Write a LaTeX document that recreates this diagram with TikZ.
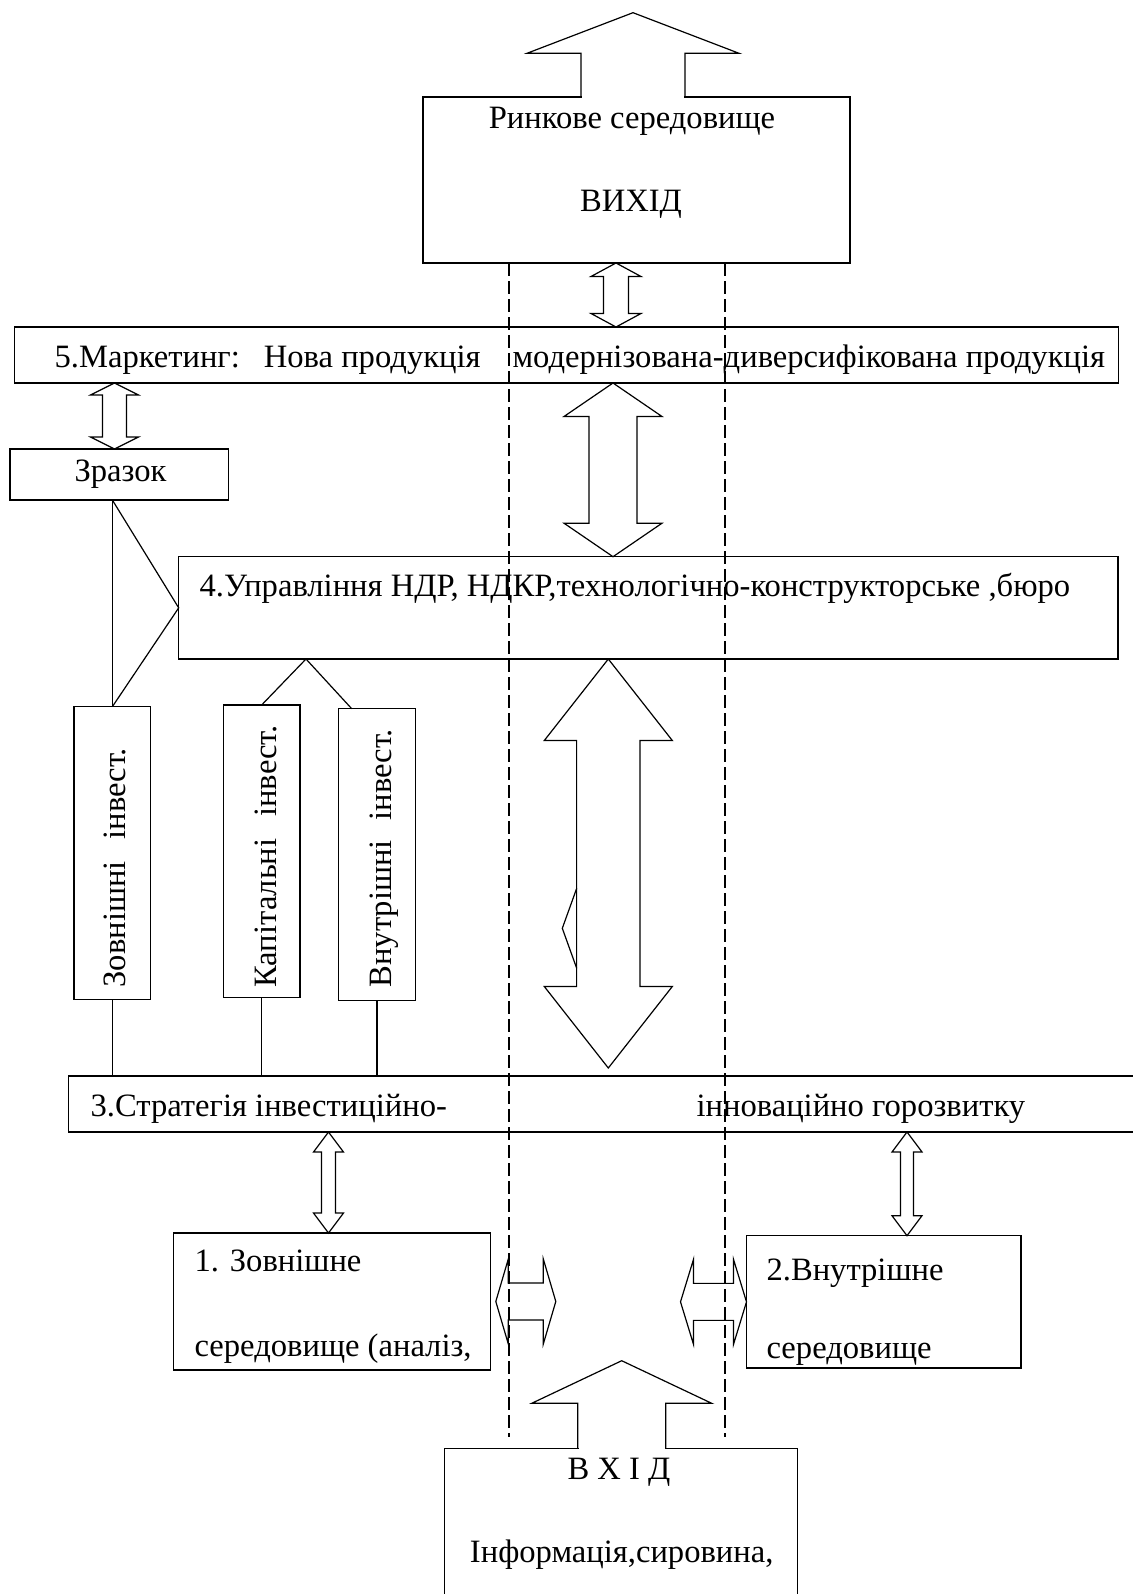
\documentclass[tikz,border=0pt]{standalone}
\usepackage{fontspec}
\setmainfont{Liberation Serif}
\usetikzlibrary{calc,fit}

% vertical double block arrow: top point, bottom point, shaft half, head half, head length
\newcommand{\vdbl}[5]{%
  \draw let \p1=#1, \p2=#2 in
    (\x1,\y1) -- (\x1+#4*0.5pt,\y1-#5*0.5pt) -- (\x1+#3*0.5pt,\y1-#5*0.5pt)
    -- (\x1+#3*0.5pt,\y2+#5*0.5pt) -- (\x1+#4*0.5pt,\y2+#5*0.5pt) -- (\x1,\y2)
    -- (\x1-#4*0.5pt,\y2+#5*0.5pt) -- (\x1-#3*0.5pt,\y2+#5*0.5pt)
    -- (\x1-#3*0.5pt,\y1-#5*0.5pt) -- (\x1-#4*0.5pt,\y1-#5*0.5pt) -- cycle;}
% horizontal double block arrow: left point, right point, shaft half, head half, head length
\newcommand{\hdbl}[5]{%
  \draw let \p1=#1, \p2=#2 in
    (\x1,\y1) -- (\x1+#5*0.5pt,\y1+#4*0.5pt) -- (\x1+#5*0.5pt,\y1+#3*0.5pt)
    -- (\x2-#5*0.5pt,\y1+#3*0.5pt) -- (\x2-#5*0.5pt,\y1+#4*0.5pt) -- (\x2,\y1)
    -- (\x2-#5*0.5pt,\y1-#4*0.5pt) -- (\x2-#5*0.5pt,\y1-#3*0.5pt)
    -- (\x1+#5*0.5pt,\y1-#3*0.5pt) -- (\x1+#5*0.5pt,\y1-#4*0.5pt) -- cycle;}
% arrow coming up out of a box: base point, shaft half, head half, shaft length, head length
\newcommand{\outarrow}[5]{%
  \fill[white] let \p1=#1 in
    (\x1-#2*0.5pt+0.4pt,\y1-0.6pt) rectangle (\x1+#2*0.5pt-0.4pt,\y1+0.6pt);
  \draw let \p1=#1 in
    (\x1-#2*0.5pt,\y1) -- (\x1-#2*0.5pt,\y1+#4*0.5pt) -- (\x1-#3*0.5pt,\y1+#4*0.5pt)
    -- (\x1,\y1+#4*0.5pt+#5*0.5pt) -- (\x1+#3*0.5pt,\y1+#4*0.5pt)
    -- (\x1+#2*0.5pt,\y1+#4*0.5pt) -- (\x1+#2*0.5pt,\y1);}

\begin{document}
\begin{tikzpicture}[x=0.5pt,y=-0.5pt,line width=0.6pt,
  box/.style={draw,inner sep=0pt,outer sep=0pt},
  txt/.style={inner sep=0pt,anchor=base west,font=\fontsize{16.3}{19}\selectfont},
  dashline/.style={dash pattern=on 6.5pt off 2.5pt}]
  \useasboundingbox (0,0) rectangle (1133,1594);

  % boxes
  \node[box,fit={(423,97) (850,263)}] (top) {};
  \node[box,fit={(14.5,327) (1118.5,383)}] (mkt) {};
  \node[box,fit={(10,449) (228.5,500)}] (zraz) {};
  \node[box,fit={(178.7,556.7) (1118,659)}] (upr) {};
  \node[box,fit={(74,706.7) (150.7,999.3)}] (zovn) {};
  \node[box,fit={(223.3,705) (300,997.3)}] (kap) {};
  \node[box,fit={(338.7,708.7) (415.3,1000.7)}] (vnut) {};
  \node[box,fit={(68.6,1076) (1140,1132)}] (strat) {};
  \node[box,fit={(173.6,1233) (490.8,1370)}] (env1) {};
  \node[box,fit={(746.5,1235.7) (1021,1368)}] (env2) {};
  \node[box,fit={(444.3,1448.3) (797.7,1610)}] (inp) {};

  % texts
  \node[txt,anchor=base] (rinok) at (632,129) {Ринкове середовище};
  \node[txt,anchor=base] (vyhid) at (631,211.7) {ВИХІД};
  \node[txt] (mkttxt) at (54,367)
    {5.Маркетинг:\hspace{12pt}Нова продукція\hspace{16pt}модернізована-диверсифікована продукція};
  \node[txt] (zraztxt) at (74,481) {Зразок};
  \node[txt] (uprtxt) at (199,596.7) {4.Управління НДР, НДКР,технологічно-конструкторське ,бюро};
  \node[txt,rotate=90] (zovntxt) at (125,988) {Зовнішні\hspace{11pt}інвест.};
  \node[txt,rotate=90] (kaptxt) at (276,988) {Капітальні\hspace{11pt}інвест.};
  \node[txt,rotate=90] (vnuttxt) at (391,988) {Внутрішні\hspace{10pt}інвест.};
  \node[txt] (strattxt) at (90,1116.7) {3.Стратегія інвестиційно-};
  \node[txt] (strattxtb) at (696,1116.7) {інноваційно горозвитку};
  \node[txt] (env1txt) at (194,1271.7) {1. Зовнішне};
  \node[txt] (env1txtb) at (194,1356.7) {середовище (аналіз,};
  \node[txt] (env2txt) at (766,1280) {2.Внутрішне};
  \node[txt] (env2txtb) at (766,1358) {середовище};
  \node[txt,anchor=base] (inptxt) at (619,1479.3) {В Х І Д};
  \node[txt,anchor=base] (inptxtb) at (621.7,1562.7) {Інформація,сировина,};

  % channel
  \foreach \x in {509,725} {
    \draw[dashline] (\x,263) -- (\x,1437);
  }

  % out / in arrows
  \outarrow{(top.north -| 633,0)}{52}{106}{43.7}{40.6}
  \outarrow{(inp.north -| 621.7,0)}{44}{90}{45}{42.6}

  % links
  \draw (zovn.north) -- (zovn.north |- zraz.south);
  \draw (zovn.north |- zraz.south) -- (upr.west) -- (zovn.north);
  \draw (kap.north) -- (upr.south -| 306,0) -- ($(vnut.north west)+(13,0)$);
  \foreach \n in {zovn,kap,vnut} {
    \draw (\n.south) -- (\n.south |- strat.north);
  }

  % double arrows
  \vdbl{(top.south -| 616,0)}{(mkt.north -| 616,0)}{12.5}{25}{13.5}
  \vdbl{(mkt.south -| 114.5,0)}{(zraz.north -| 114.5,0)}{12}{24}{12}
  \vdbl{(mkt.south -| 613,0)}{(upr.north -| 613,0)}{24}{49}{33.5}
  \vdbl{(upr.south -| 608.3,0)}{($(strat.north -| 608.3,0)+(0,-8)$)}{31.7}{64}{81.5}
  \draw (576.7,888.3) -- (562.3,928.3) -- (576.7,968.3);
  \vdbl{(strat.south -| 328.5,0)}{(env1.north -| 328.5,0)}{7}{15}{20}
  \vdbl{(strat.south -| 907,0)}{(env2.north -| 907,0)}{6.5}{15}{20}
  \hdbl{($(env1.east)+(5,0)$)}{($(env1.east)+(65,0)$)}{18.5}{42.5}{12.5}
  \hdbl{($(env2.west)+(-66,0)$)}{(env2.west)}{18.5}{42.5}{13}
\end{tikzpicture}
\end{document}
